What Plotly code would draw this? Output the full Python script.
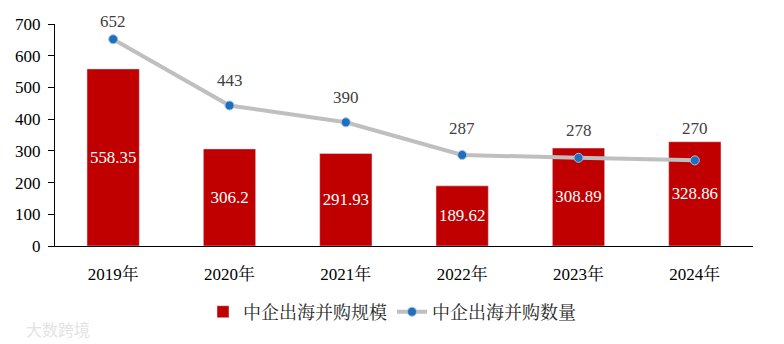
import plotly.graph_objects as go

years = ["2019年", "2020年", "2021年", "2022年", "2023年", "2024年"]
scale = [558.35, 306.2, 291.93, 189.62, 308.89, 328.86]
count = [652, 443, 390, 287, 278, 270]
scale_labels = ["558.35", "306.2", "291.93", "189.62", "308.89", "328.86"]
count_labels = ["652", "443", "390", "287", "278", "270"]
label_shift = [18, 25, 25, 26, 27, 32]  # pixel offsets of count labels above points

FONT = "Liberation Serif, 'Times New Roman', 'Noto Serif CJK SC', 'Noto Sans CJK SC', serif"

fig = go.Figure()
fig.add_trace(go.Bar(
    x=years, y=scale, name="中企出海并购规模",
    marker=dict(color="#c00000"),
    width=0.45,
    text=scale_labels, textposition="inside", insidetextanchor="middle", textangle=0,
    textfont=dict(color="white", size=17, family=FONT),
    cliponaxis=False,
))
fig.add_trace(go.Scatter(
    x=years, y=count, name="中企出海并购数量",
    mode="lines+markers",
    line=dict(color="#bfbfbf", width=4),
    marker=dict(color="#1f6fba", size=9, line=dict(color="#9dc3e6", width=1)),
    cliponaxis=False,
))
for xv, yv, t, s in zip(years, count, count_labels, label_shift):
    fig.add_annotation(x=xv, y=yv, text=t, showarrow=False, yshift=s,
                       font=dict(color="#404040", size=17, family=FONT))

fig.update_layout(
    width=784, height=344,
    margin=dict(l=55, r=31, t=24, b=98, autoexpand=False),
    paper_bgcolor="white", plot_bgcolor="white",
    font=dict(family=FONT, size=16, color="black"),
    showlegend=True,
    legend=dict(orientation="h", x=0.5, xanchor="center", xref="container",
                y=0.093, yanchor="middle", yref="container",
                font=dict(size=18, family=FONT, color="#262626"), traceorder="normal"),
    bargap=0.55,
)
fig.update_xaxes(showline=True, linecolor="black", linewidth=1, ticks="",
                 tickfont=dict(size=17), showgrid=False, ticklabelstandoff=13)
fig.update_yaxes(range=[0, 700], dtick=100, showline=True, linecolor="black", linewidth=1,
                 ticks="outside", ticklen=6, tickcolor="black", showgrid=False,
                 zeroline=False, tickfont=dict(size=17), ticklabelstandoff=4)

fig.add_annotation(text="大数跨境", xref="paper", yref="paper", x=-0.045, y=-0.31,
                   xanchor="left", yanchor="top", showarrow=False,
                   font=dict(size=16, color="#e3e3e3", family="Noto Sans CJK SC"))

fig.write_html("out.html")
